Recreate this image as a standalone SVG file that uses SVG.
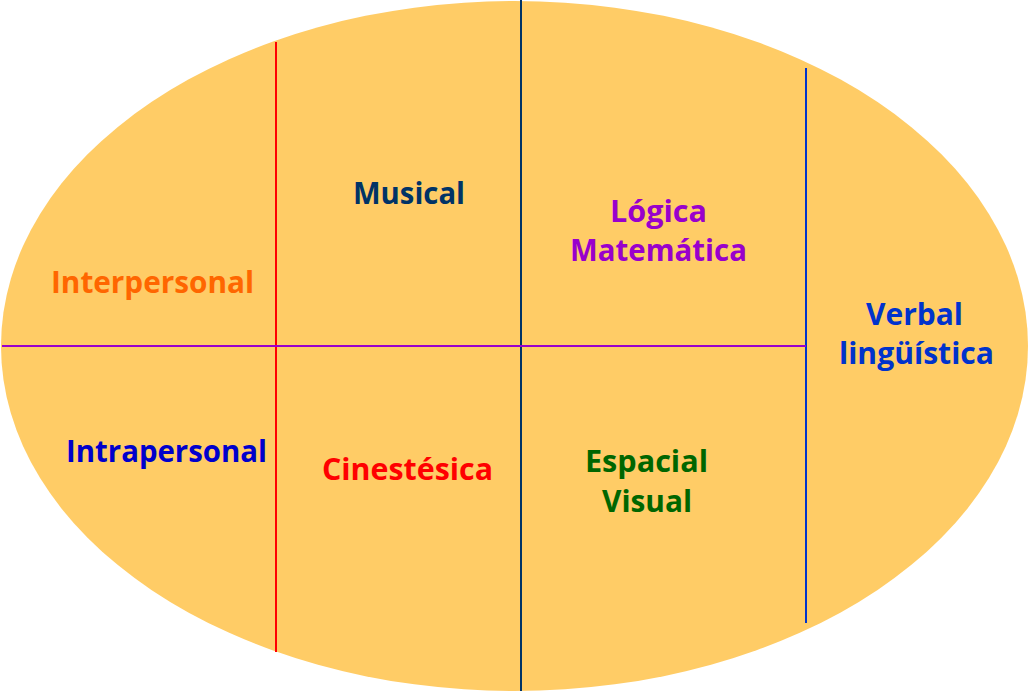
<svg xmlns="http://www.w3.org/2000/svg" width="1029" height="692" viewBox="0 0 1029 692">
<style>
text{font-family:"Open Sans","DejaVu Sans","Liberation Sans",sans-serif;font-weight:bold;font-size:30px;text-anchor:middle}
.ln{stroke-width:2;fill:none}
</style>
<rect width="1029" height="692" fill="#ffffff"/>
<g id="ellipse"><ellipse cx="514.5" cy="346" rx="513.5" ry="345" fill="#FFCC66"/></g>
<g id="connectors">
<line class="ln" x1="276" y1="42" x2="276" y2="652" stroke="#FF0000"/>
<line class="ln" x1="521" y1="0" x2="521" y2="691" stroke="#003366"/>
<line class="ln" x1="806" y1="68" x2="806" y2="623" stroke="#0033CC"/>
<line class="ln" x1="2" y1="346" x2="806" y2="346" stroke="#9900CC"/>
</g>
<g id="musical"><text x="409" y="204" fill="#003366" textLength="112" lengthAdjust="spacingAndGlyphs">Musical</text></g>
<g id="logica"><text x="658.5" y="222" fill="#9900CC" textLength="97" lengthAdjust="spacingAndGlyphs">Lógica</text>
<text x="658.5" y="261" fill="#9900CC" textLength="177" lengthAdjust="spacingAndGlyphs">Matemática</text></g>
<g id="interpersonal"><text x="152.5" y="293" fill="#FF6600" textLength="203" lengthAdjust="spacingAndGlyphs">Interpersonal</text></g>
<g id="intrapersonal"><text x="166.5" y="462" fill="#0000CC" textLength="201" lengthAdjust="spacingAndGlyphs">Intrapersonal</text></g>
<g id="cinestesica"><text x="407.5" y="480" fill="#FF0000" textLength="171" lengthAdjust="spacingAndGlyphs">Cinestésica</text></g>
<g id="espacial"><text x="646.5" y="472" fill="#006600" textLength="123" lengthAdjust="spacingAndGlyphs">Espacial</text>
<text x="647" y="512" fill="#006600" textLength="90" lengthAdjust="spacingAndGlyphs">Visual</text></g>
<g id="verbal"><text x="914.5" y="325" fill="#0033CC" textLength="97" lengthAdjust="spacingAndGlyphs">Verbal</text>
<text x="916.5" y="364" fill="#0033CC" textLength="155" lengthAdjust="spacingAndGlyphs">lingüística</text></g>
</svg>
